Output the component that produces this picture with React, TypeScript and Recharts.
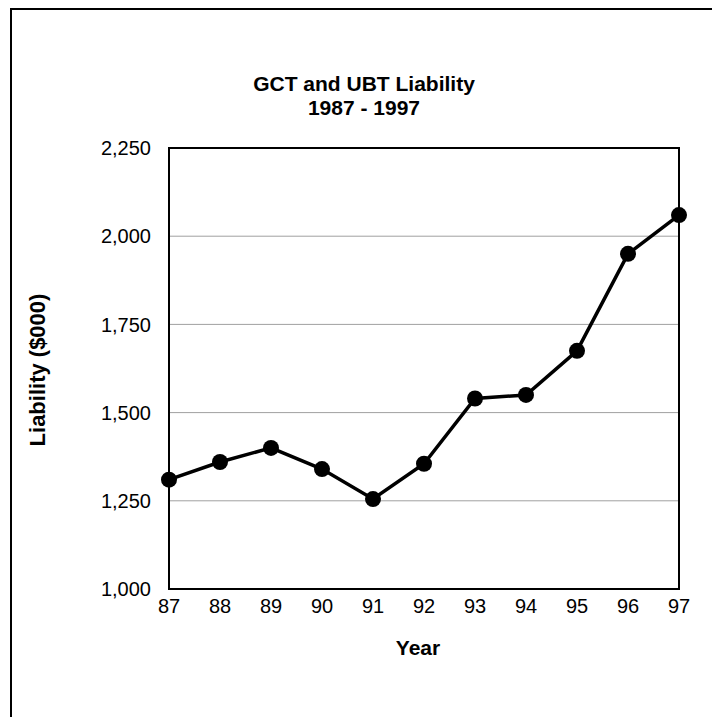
import React from "react";
import {
  LineChart,
  Line,
  XAxis,
  YAxis,
  CartesianGrid,
  ReferenceArea,
} from "recharts";

const years = ["87", "88", "89", "90", "91", "92", "93", "94", "95", "96", "97"];
const liability = [1310, 1360, 1400, 1340, 1255, 1355, 1540, 1550, 1675, 1950, 2060];
const yTicks = [1000, 1250, 1500, 1750, 2000, 2250];

const titleLines = ["GCT and UBT Liability", "1987 - 1997"];
const xTitle = "Year";
const yTitle = "Liability ($000)";

const data = years.map((year, i) => ({ year, value: liability[i] }));

const W = 700;
const H = 707;
const font = 'Arial, "Liberation Sans", sans-serif';

export default function App() {
  return (
    <>
      <style>{`body{margin:0;overflow:hidden;background:#fff}`}</style>
      <div
        style={{
          position: "absolute",
          left: 10,
          top: 8,
          width: 702,
          height: 709,
          borderTop: "2px solid #000",
          borderLeft: "2px solid #000",
          boxSizing: "border-box",
          fontFamily: font,
        }}
      >
        <LineChart
          width={W}
          height={H}
          data={data}
          margin={{ top: 138, right: 33, left: 0, bottom: 68 }}
          style={{ position: "absolute", left: 0, top: 0 }}
        >
          <CartesianGrid
            horizontal={true}
            vertical={false}
            stroke="#a0a0a0"
            strokeWidth={1}
          />
          <XAxis
            dataKey="year"
            height={60}
            tickSize={0}
            tickMargin={10}
            axisLine={false}
            tick={{ fill: "#000", fontSize: 20, fontFamily: font }}
            interval={0}
          />
          <YAxis
            width={157}
            domain={[1000, 2250]}
            ticks={yTicks}
            tickSize={0}
            tickMargin={18}
            axisLine={false}
            tickFormatter={(v: number) => v.toLocaleString("en-US")}
            tick={{ fill: "#000", fontSize: 20, fontFamily: font }}
          />
          <ReferenceArea
            x1="87"
            x2="97"
            y1={1000}
            y2={2250}
            fill="none"
            stroke="#000"
            strokeWidth={2}
            ifOverflow="visible"
          />
          <Line
            type="linear"
            dataKey="value"
            stroke="#000"
            strokeWidth={3.5}
            dot={{ r: 8, fill: "#000", stroke: "#000", strokeWidth: 0 }}
            activeDot={false}
            isAnimationActive={false}
          />
        </LineChart>
        <svg
          width={W}
          height={H}
          style={{ position: "absolute", left: 0, top: 0, pointerEvents: "none" }}
        >
          <text
            x={352}
            y={81}
            textAnchor="middle"
            fontFamily={font}
            fontWeight="bold"
            fontSize={21}
            fill="#000"
          >
            {titleLines[0]}
          </text>
          <text
            x={352}
            y={105}
            textAnchor="middle"
            fontFamily={font}
            fontWeight="bold"
            fontSize={21}
            fill="#000"
          >
            {titleLines[1]}
          </text>
          <text
            x={25}
            y={360}
            textAnchor="middle"
            dominantBaseline="central"
            transform="rotate(-90, 25, 360)"
            fontFamily={font}
            fontWeight="bold"
            fontSize={22}
            fill="#000"
          >
            {yTitle}
          </text>
          <text
            x={406}
            y={645}
            textAnchor="middle"
            fontFamily={font}
            fontWeight="bold"
            fontSize={21}
            fill="#000"
          >
            {xTitle}
          </text>
        </svg>
      </div>
    </>
  );
}
